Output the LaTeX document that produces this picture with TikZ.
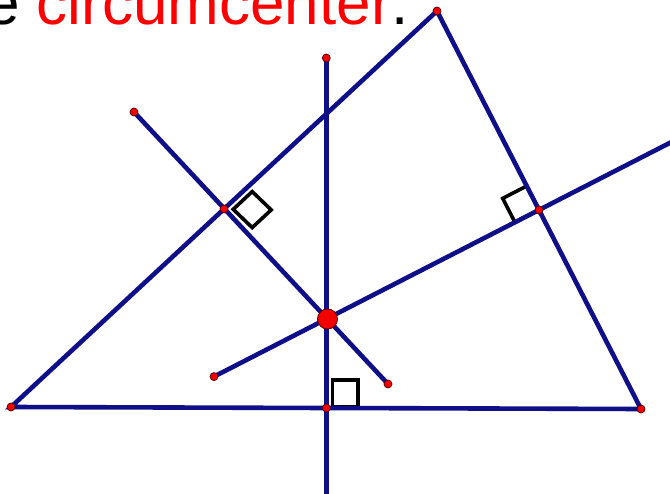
\documentclass[tikz,border=0pt]{standalone}
\usepackage{fontspec}
\setmainfont{Liberation Sans}
\usetikzlibrary{calc}
\definecolor{segblue}{RGB}{15,15,135}
\definecolor{ptred}{RGB}{245,0,0}
\begin{document}
\begin{tikzpicture}[x=1pt,y=-1pt,
  seg/.style={draw=segblue,line width=4.6pt},
  rtmark/.style={draw=black,line width=3.6pt,line join=miter},
  smalldot/.style={circle,fill=ptred,draw=black!70!red,line width=0.7pt,inner sep=0pt,minimum size=8pt},
  bigdot/.style={circle,fill=ptred,draw=black!60!red,line width=0.9pt,inner sep=0pt,minimum size=20pt},
  caption/.style={anchor=base west,inner sep=0pt,font=\fontsize{62}{62}\selectfont}]
\clip (0,0) rectangle (670,494);
\fill[white] (0,0) rectangle (670,494);
% points
\coordinate (A) at (11,407);
\coordinate (B) at (641,409);
\coordinate (C) at (437,11);
\coordinate (Mac) at (224,209);
\coordinate (Mbc) at (539,210);
\coordinate (Mab) at (326.3,408);
\coordinate (O) at (327.5,319);
\coordinate (Vtop) at (326.3,58);
\coordinate (Vbot) at (326.3,500);
\coordinate (Pa1) at (134,112);
\coordinate (Pa2) at (388,384);
\coordinate (Pb1) at (214,376.6);
\coordinate (Pb2) at (700,127.4);
% caption
\node[caption] (cap) at (-15,25) {e \textcolor{red}{circumcenter}.};
% right-angle marks
\draw[rtmark] (233.2,209.3) -- (252.2,191.6) -- (271.2,209.9) -- (252.2,227.6) -- cycle;
\draw[rtmark] (332.5,407) -- (332.5,380) -- (358,380) -- (358,407) -- cycle;
\draw[rtmark] (Mbc) -- ++(-12.3,-24) -- ++(-24,12.4) -- ++(12.3,24) -- cycle;
% segments
\draw[seg] (A) -- (B) -- (C) -- cycle;
\draw[seg] (Vtop) -- (Vbot);
\draw[seg] (Pa1) -- (Pa2);
\draw[seg] (Pb1) -- (Pb2);
% dots
\node[smalldot] (dA) at (A) {};
\node[smalldot] (dB) at (B) {};
\node[smalldot] (dC) at (C) {};
\node[smalldot] (dMac) at (Mac) {};
\node[smalldot] (dMbc) at (Mbc) {};
\node[smalldot] (dMab) at (Mab) {};
\node[smalldot] (dVtop) at (Vtop) {};
\node[smalldot] (dPa1) at (Pa1) {};
\node[smalldot] (dPa2) at (Pa2) {};
\node[smalldot] (dPb1) at (Pb1) {};
\node[bigdot] (dO) at (O) {};
\end{tikzpicture}
\end{document}
